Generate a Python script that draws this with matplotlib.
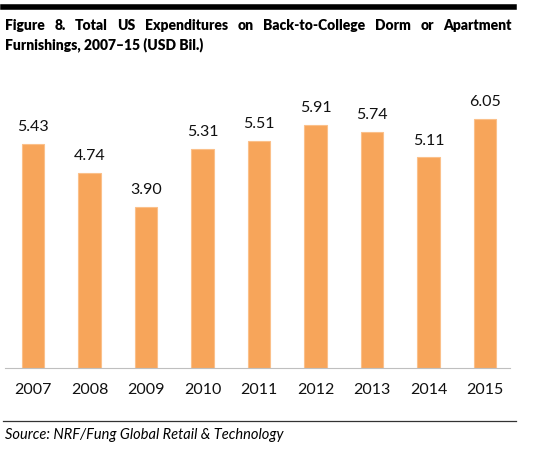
import matplotlib
matplotlib.use('Agg')
import matplotlib.pyplot as plt

years = ['2007', '2008', '2009', '2010', '2011', '2012', '2013', '2014', '2015']
spend = [5.43, 4.74, 3.90, 5.31, 5.51, 5.91, 5.74, 5.11, 6.05]

title1 = 'Figure 8. Total US Expenditures on Back-to-College Dorm or Apartment'
title2 = 'Furnishings, 2007\u201315 (USD Bil.)'
source = 'Source: NRF/Fung Global Retail & Technology'

W, H = 550, 450
bar_color = '#F7A55A'
plt.rcParams['font.family'] = ['Lato', 'DejaVu Sans']

fig = plt.figure(figsize=(W / 100, H / 100), dpi=100)
ax = fig.add_axes([5 / W, 1 - 368 / H, 505 / W, 290 / H])

x = list(range(len(years)))
bars = ax.bar(x, spend, width=0.4, color=bar_color, edgecolor='#FBC08A', linewidth=0.8)
for xi, v in zip(x, spend):
    ax.text(xi, v + 0.24, f'{v:.2f}', ha='center', va='bottom', fontsize=11.5, color='#111111')

ax.set_xlim(-0.496, 8.44)
ax.set_ylim(0, 290 / 41.2)
ax.set_xticks(x)
ax.set_xticklabels(years, fontsize=11.5, color='#111111')
ax.tick_params(axis='x', length=0, pad=11)
ax.set_yticks([])
for s in ['top', 'right', 'left']:
    ax.spines[s].set_visible(False)
ax.spines['bottom'].set_color('#bfbfbf')
ax.spines['bottom'].set_linewidth(0.8)

# rules above and below
fig.add_artist(plt.Line2D([3 / W, 514 / W], [1 - 7 / H, 1 - 7 / H], color='black', lw=4))
fig.add_artist(plt.Line2D([3 / W, 516 / W], [1 - 421 / H, 1 - 421 / H], color='#333333', lw=0.9))

# justified first title line
words = title1.split(' ')
left, right = 5, 512
texts = [fig.text(0, 1 - 25 / H, w, fontsize=10, fontweight='heavy', va='center') for w in words]
fig.canvas.draw()
r = fig.canvas.get_renderer()
widths = [t.get_window_extent(r).width for t in texts]
gap = (right - left - sum(widths)) / (len(words) - 1)
pos = left
for t, wd in zip(texts, widths):
    t.set_x(pos / W)
    pos += wd + gap

fig.text(left / W, 1 - 45 / H, title2, fontsize=10, fontweight='heavy', va='center')
fig.text(left / W, 1 - 435 / H, source, fontsize=10.5, style='italic', va='center')

fig.savefig('out.png', dpi=100)
